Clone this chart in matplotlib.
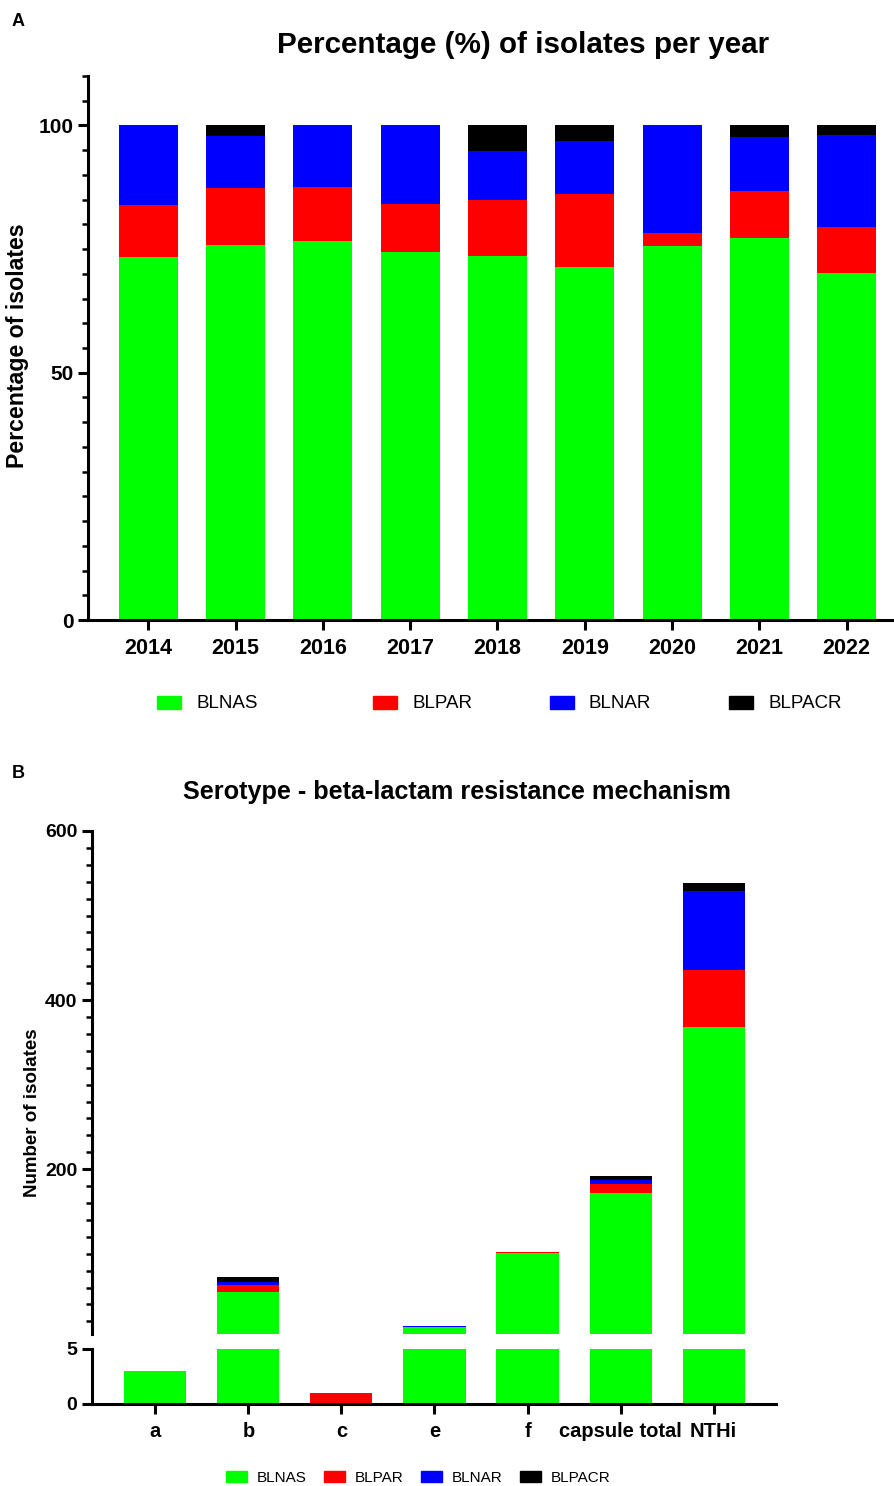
import matplotlib
matplotlib.use("Agg")
import matplotlib.pyplot as plt
from matplotlib.patches import Patch, Rectangle
from matplotlib.ticker import MultipleLocator
import numpy as np

plt.rcParams['font.family'] = ['Liberation Sans', 'DejaVu Sans']

# Panel A: percentage of isolates per year
years = ['2014', '2015', '2016', '2017', '2018', '2019', '2020', '2021', '2022']
pct_blnas = [73.3, 75.9, 76.6, 74.4, 73.7, 71.3, 75.6, 77.2, 70.1]
pct_blpar = [10.7, 11.5, 10.9, 9.7, 11.2, 14.9, 2.7, 9.6, 9.3]
pct_blnar = [16.0, 10.4, 12.5, 15.9, 10.0, 10.6, 21.7, 10.8, 18.6]
pct_blpacr = [0.0, 2.2, 0.0, 0.0, 5.1, 3.2, 0.0, 2.4, 2.0]

# Panel B: serotype counts
serotypes = ['a', 'b', 'c', 'e', 'f', 'capsule total', 'NTHi']
n_blnas = [3, 55, 0, 13, 101, 172, 368]
n_blpar = [0, 8, 1, 0, 1, 10, 67]
n_blnar = [0, 4, 0, 1, 0, 5, 94]
n_blpacr = [0, 5, 0, 0, 0, 5, 9]

labels = ['BLNAS', 'BLPAR', 'BLNAR', 'BLPACR']
colors = ['#00ff00', '#ff0000', '#0000ff', '#000000']

W, H = 894, 1486
fig = plt.figure(figsize=(W / 100, H / 100), dpi=100)


def box(x0, y0, x1, y1):
    # pixel box (top-left origin) -> figure fraction rect
    return [x0 / W, 1 - y1 / H, (x1 - x0) / W, (y1 - y0) / H]


def stack(ax, x, series, width):
    bottom = np.zeros(len(x))
    for vals, c in zip(series, colors):
        ax.bar(x, vals, width, bottom=bottom, color=c, linewidth=0)
        bottom += np.array(vals, dtype=float)


def style_spines(ax, bottom=True, size=14):
    for s in ['top', 'right']:
        ax.spines[s].set_visible(False)
    ax.spines['left'].set_linewidth(2.2)
    ax.spines['bottom'].set_linewidth(2.2)
    ax.spines['bottom'].set_visible(bottom)
    ax.tick_params(axis='y', which='major', length=7, width=2.2, labelsize=size)
    ax.tick_params(axis='y', which='minor', length=4, width=1.8)
    for t in ax.get_yticklabels():
        t.set_fontweight('bold')


# ---------- Panel A ----------
axA = fig.add_axes(box(88, 76, 893, 620))
xa = np.arange(len(years))
stack(axA, xa, [pct_blnas, pct_blpar, pct_blnar, pct_blpacr], 0.676)
axA.set_xlim(-0.69, 8.53)
axA.set_ylim(0, 110)
axA.set_yticks([0, 50, 100])
axA.yaxis.set_minor_locator(MultipleLocator(5))
axA.set_xticks(xa)
axA.set_xticklabels(years, fontsize=15.5, fontweight='bold')
axA.tick_params(axis='x', length=7, width=2.2, pad=6)
style_spines(axA, size=15)
fig.text(18 / W, 1 - 346 / H, 'Percentage of isolates', rotation=90, fontsize=16.7,
         fontweight='bold', ha='center', va='center')
fig.text(523 / W, 1 - 45 / H, 'Percentage (%) of isolates per year', fontsize=21.3,
         fontweight='bold', ha='center', va='center')
fig.text(18 / W, 1 - 22 / H, 'A', fontsize=13, fontweight='bold', ha='center', va='center')

# legend A, placed by hand to match spacing
leg_x = [157, 373, 550, 729]
for lx, lab, c in zip(leg_x, labels, colors):
    fig.patches.append(Rectangle((lx / W, 1 - 709 / H), 24 / W, 13 / H,
                                 transform=fig.transFigure, color=c))
    fig.text((lx + 39) / W, 1 - 703 / H, lab, fontsize=13.5, ha='left', va='center')

# ---------- Panel B (broken axis) ----------
xb = np.arange(len(serotypes))
series_b = [n_blnas, n_blpar, n_blnar, n_blpacr]

axT = fig.add_axes(box(92, 831, 776, 1334))
stack(axT, xb, series_b, 0.667)
axT.set_xlim(-0.68, 6.67)
axT.set_ylim(5, 600)
axT.set_yticks([200, 400, 600])
axT.yaxis.set_minor_locator(MultipleLocator(20))
axT.set_xticks([])
style_spines(axT, bottom=False)

axL = fig.add_axes(box(92, 1348.7, 776, 1404))
stack(axL, xb, series_b, 0.667)
axL.set_xlim(-0.68, 6.67)
axL.set_ylim(0, 5)
axL.set_yticks([0, 5])
axL.set_xticks(xb)
axL.set_xticklabels(serotypes, fontsize=14.5, fontweight='bold')
axL.tick_params(axis='x', length=7, width=2.2, pad=6)
style_spines(axL)

fig.text(33 / W, 1 - 1113 / H, 'Number of isolates', rotation=90, fontsize=13.5,
         fontweight='bold', ha='center', va='center')
fig.text(457 / W, 1 - 792 / H, 'Serotype - beta-lactam resistance mechanism', fontsize=18.2,
         fontweight='bold', ha='center', va='center')
fig.text(18 / W, 1 - 773 / H, 'B', fontsize=13, fontweight='bold', ha='center', va='center')

handles = [Patch(color=c, label=l) for l, c in zip(labels, colors)]
fig.legend(handles=handles, loc='center', bbox_to_anchor=(418 / W, 1 - 1478 / H), ncol=4,
           frameon=False, fontsize=11, handlelength=1.4, handleheight=0.75,
           columnspacing=1.15, handletextpad=0.6)

fig.savefig('out.png', dpi=100)
